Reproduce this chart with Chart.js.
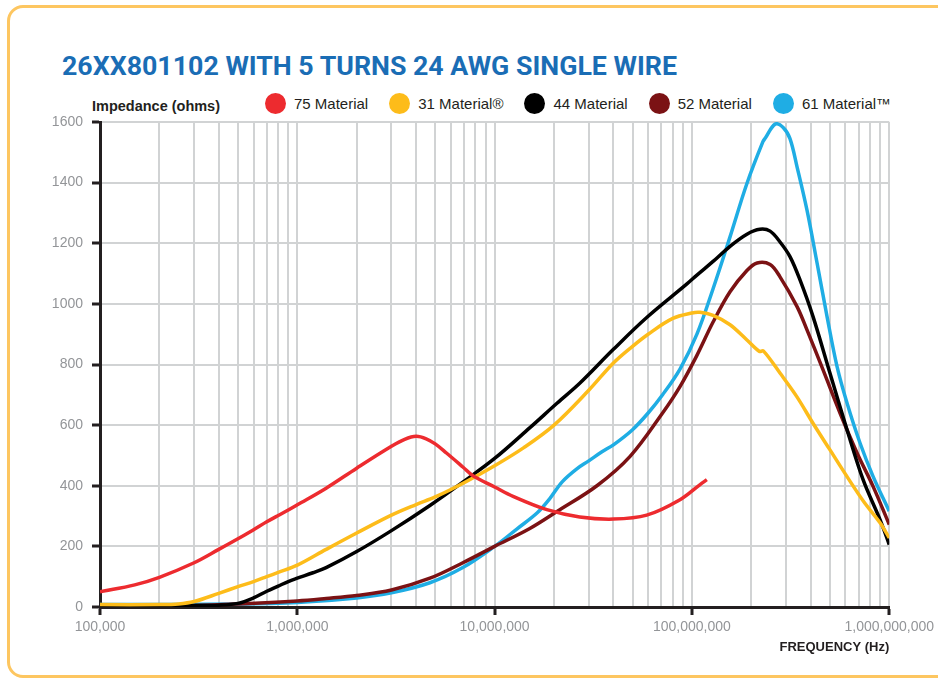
<!DOCTYPE html>
<html>
<head>
<meta charset="utf-8">
<script src="https://cdn.jsdelivr.net/npm/chart.js@4.4.1/dist/chart.umd.min.js"></script>
<style>
  html, body { margin: 0; padding: 0; background: #ffffff; width: 938px; height: 681px; overflow: hidden; }
  #frame { position: absolute; left: 7px; top: 5px; width: 1000px; height: 667px; border: 3px solid #fdc660; border-radius: 16px; }
  #title { position: absolute; left: 62px; top: 53px; font: 700 26px Roboto, "Liberation Sans", sans-serif; line-height: 26px; color: #1a6db5; white-space: nowrap; transform-origin: 0 0; }
  #ylab { position: absolute; left: 92px; top: 99px; font: 700 14.5px "Liberation Sans", Arial, sans-serif; line-height: 14.5px; color: #231f20; white-space: nowrap; transform-origin: 0 0; }
  #legend { position: absolute; left: 265px; top: 93px; display: flex; align-items: center; height: 21px; }
  .item { display: flex; align-items: center; margin-right: 21px; }
  .dot { width: 21px; height: 21px; border-radius: 50%; margin-right: 8px; }
  .txt { font: 400 15px "Liberation Sans", Arial, sans-serif; line-height: 15px; color: #231f20; white-space: nowrap; }
  #wrap { position: absolute; left: 0; top: 0; width: 938px; height: 681px; }
</style>
</head>
<body>
<div id="frame"></div>
<div id="title">26XX801102 WITH 5 TURNS 24 AWG SINGLE WIRE</div>
<div id="ylab">Impedance (ohms)</div>
<div id="legend"></div>
<div id="wrap"><canvas id="c" width="938" height="681"></canvas></div>
<script>
// ---------- data (frequency in Hz, impedance in ohms) ----------
const seriesNames = ["75 Material", "31 Material®", "44 Material", "52 Material", "61 Material™"];
const seriesColors = ["#ed2b2f", "#fdbc1a", "#000000", "#7b1214", "#1fade4"];

const freq75 = [1e5, 1.5e5, 2e5, 3e5, 4e5, 5e5, 6e5, 7e5, 8e5, 9e5, 1e6, 1.4e6, 2e6, 3e6, 3.5e6, 4e6, 4.5e6, 5e6, 5.7e6, 6.9e6, 7.8e6, 1e7, 1.24e7, 1.84e7, 2.7e7, 4e7, 5.9e7, 8.7e7, 1.1e8, 1.19e8];
const imp75  = [50, 73, 98, 146, 190, 225, 255, 281, 302, 320, 337, 392, 458, 530, 553, 563, 555, 538, 508, 462, 432, 396, 365, 321, 297, 290, 303, 354, 404, 420];

const freq31 = [1e5, 2e5, 2.5e5, 3e5, 4e5, 5e5, 6e5, 7e5, 8e5, 1e6, 1.4e6, 2e6, 3e6, 4e6, 5e6, 7e6, 1e7, 1.4e7, 2e7, 3e7, 4e7, 5e7, 6e7, 8e7, 1e8, 1.1e8, 1.28e8, 1.56e8, 1.9e8, 2.2e8, 2.3e8, 2.8e8, 3.4e8, 4.1e8, 5e8, 6.1e8, 7.4e8, 9e8, 1e9];
const imp31  = [8, 8, 10, 18, 45, 67, 84, 100, 114, 138, 190, 244, 303, 338, 363, 410, 466, 525, 600, 715, 805, 860, 900, 952, 970, 972, 962, 931, 881, 843, 845, 771, 694, 607, 519, 431, 349, 277, 228];

const freq44 = [1e5, 3e5, 4e5, 5e5, 6e5, 7e5, 8e5, 9e5, 1e6, 1.2e6, 1.4e6, 2e6, 3e6, 4.7e6, 6.9e6, 1e7, 1.5e7, 2.07e7, 2.7e7, 4e7, 5.9e7, 9.4e7, 1.06e8, 1.28e8, 1.56e8, 1.9e8, 2.21e8, 2.49e8, 2.79e8, 3.14e8, 3.53e8, 4.11e8, 5.01e8, 6.11e8, 7.37e8, 8.98e8, 1e9];
const imp44  = [5, 5, 6, 12, 30, 52, 69, 84, 95, 113, 130, 183, 252, 335, 412, 490, 590, 672, 738, 850, 955, 1065, 1095, 1140, 1190, 1230, 1246, 1240, 1205, 1156, 1079, 958, 771, 585, 420, 288, 206];

const freq52 = [1e5, 3e5, 5e5, 1e6, 1.4e6, 2e6, 3e6, 4.7e6, 6.9e6, 1e7, 1.5e7, 2.07e7, 3.3e7, 4.86e7, 7.1e7, 8.7e7, 1.06e8, 1.28e8, 1.56e8, 1.9e8, 2.14e8, 2.49e8, 2.79e8, 3.41e8, 3.83e8, 4.62e8, 5.63e8, 6.87e8, 8.28e8, 1e9];
const imp52  = [3, 5, 10, 20, 28, 38, 56, 95, 146, 200, 258, 315, 400, 497, 640, 727, 830, 940, 1040, 1110, 1135, 1130, 1090, 991, 914, 782, 640, 508, 398, 272];

const freq61 = [1e5, 5e5, 1e6, 2e6, 3e6, 4.7e6, 6.9e6, 1e7, 1.3e7, 1.64e7, 1.9e7, 2.2e7, 2.6e7, 3e7, 3.5e7, 4e7, 5e7, 6e7, 7.1e7, 8.7e7, 1.06e8, 1.28e8, 1.56e8, 1.9e8, 2.29e8, 2.36e8, 2.64e8, 2.9e8, 3.14e8, 3.41e8, 3.83e8, 4.31e8, 4.84e8, 5.44e8, 6.11e8, 7.11e8, 8.28e8, 1e9];
const imp61  = [8, 10, 15, 30, 47, 80, 130, 200, 258, 310, 357, 413, 455, 482, 512, 535, 585, 640, 700, 785, 900, 1050, 1221, 1397, 1535, 1548, 1593, 1582, 1545, 1452, 1309, 1134, 958, 793, 673, 541, 431, 316];

const yTicks = [0, 200, 400, 600, 800, 1000, 1200, 1400, 1600];
const xMin = 1e5, xMax = 1e9;

// ---------- helpers ----------
const freqs = [freq75, freq31, freq44, freq52, freq61];
const imps = [imp75, imp31, imp44, imp52, imp61];
const pts = (f, v) => f.map((x, i) => ({ x: x, y: v[i] }));
const isDecade = v => Math.abs(Math.log10(v) - Math.round(Math.log10(v))) < 1e-9;

function fitWidth(el, w) {
  const cur = el.getBoundingClientRect().width;
  el.style.transform = 'scaleX(' + (w / cur) + ')';
}

// HTML legend generated from the series arrays
const legend = document.getElementById('legend');
seriesNames.forEach((n, i) => {
  const it = document.createElement('div'); it.className = 'item';
  const d = document.createElement('span'); d.className = 'dot'; d.style.background = seriesColors[i];
  const t = document.createElement('span'); t.className = 'txt'; t.textContent = n;
  it.appendChild(d); it.appendChild(t); legend.appendChild(it);
});
fitWidth(document.getElementById('title'), 615);
fitWidth(document.getElementById('ylab'), 128);

const AXIS = '#231f20', GRID = '#d1d3d4', TICKTXT = '#939598';

new Chart(document.getElementById('c'), {
  type: 'line',
  data: {
    datasets: seriesNames.map((n, i) => ({
      label: n,
      data: pts(freqs[i], imps[i]),
      borderColor: seriesColors[i],
      backgroundColor: seriesColors[i],
      borderWidth: 3.5,
      pointRadius: 0,
      fill: false,
      tension: 0.35
    }))
  },
  options: {
    responsive: false,
    animation: false,
    layout: { padding: { left: 0, right: 48, top: 122, bottom: 14 } },
    plugins: { legend: { display: false }, tooltip: { enabled: false }, title: { display: false } },
    scales: {
      x: {
        type: 'logarithmic',
        min: xMin, max: xMax,
        afterBuildTicks: s => {
          const t = [];
          for (let e = 5; e <= 9; e++) for (let k = 1; k <= 9; k++) {
            const v = k * Math.pow(10, e);
            if (v <= xMax) t.push({ value: v, major: k === 1 });
          }
          s.ticks = t;
        },
        afterFit: s => { s.height = 60; },
        grid: {
          color: GRID, lineWidth: 2, drawTicks: true, tickLength: 8, tickWidth: 3,
          tickColor: c => (c.tick && isDecade(c.tick.value)) ? AXIS : 'rgba(0,0,0,0)'
        },
        border: { display: true, color: AXIS, width: 3 },
        ticks: {
          autoSkip: false, maxRotation: 0, minRotation: 0, padding: 4,
          color: TICKTXT, font: { family: '"Liberation Sans", Arial, sans-serif', size: 14 },
          callback: v => isDecade(v) ? Number(v).toLocaleString('en-US') : ''
        },
        title: {
          display: true, text: 'FREQUENCY (Hz)', align: 'end', color: AXIS,
          font: { family: '"Liberation Sans", Arial, sans-serif', size: 13, weight: 'bold' },
          padding: { top: 0, bottom: 12 }
        }
      },
      y: {
        min: 0, max: 1600,
        afterBuildTicks: s => { s.ticks = yTicks.map(v => ({ value: v })); },
        afterFit: s => { s.width = 100; },
        grid: { color: GRID, lineWidth: 2, drawTicks: true, tickLength: 8, tickWidth: 3, tickColor: AXIS },
        border: { display: true, color: AXIS, width: 3 },
        ticks: {
          padding: 9, color: TICKTXT,
          font: { family: '"Liberation Sans", Arial, sans-serif', size: 14 },
          callback: v => String(v)
        }
      }
    }
  }
});
</script>
</body>
</html>
